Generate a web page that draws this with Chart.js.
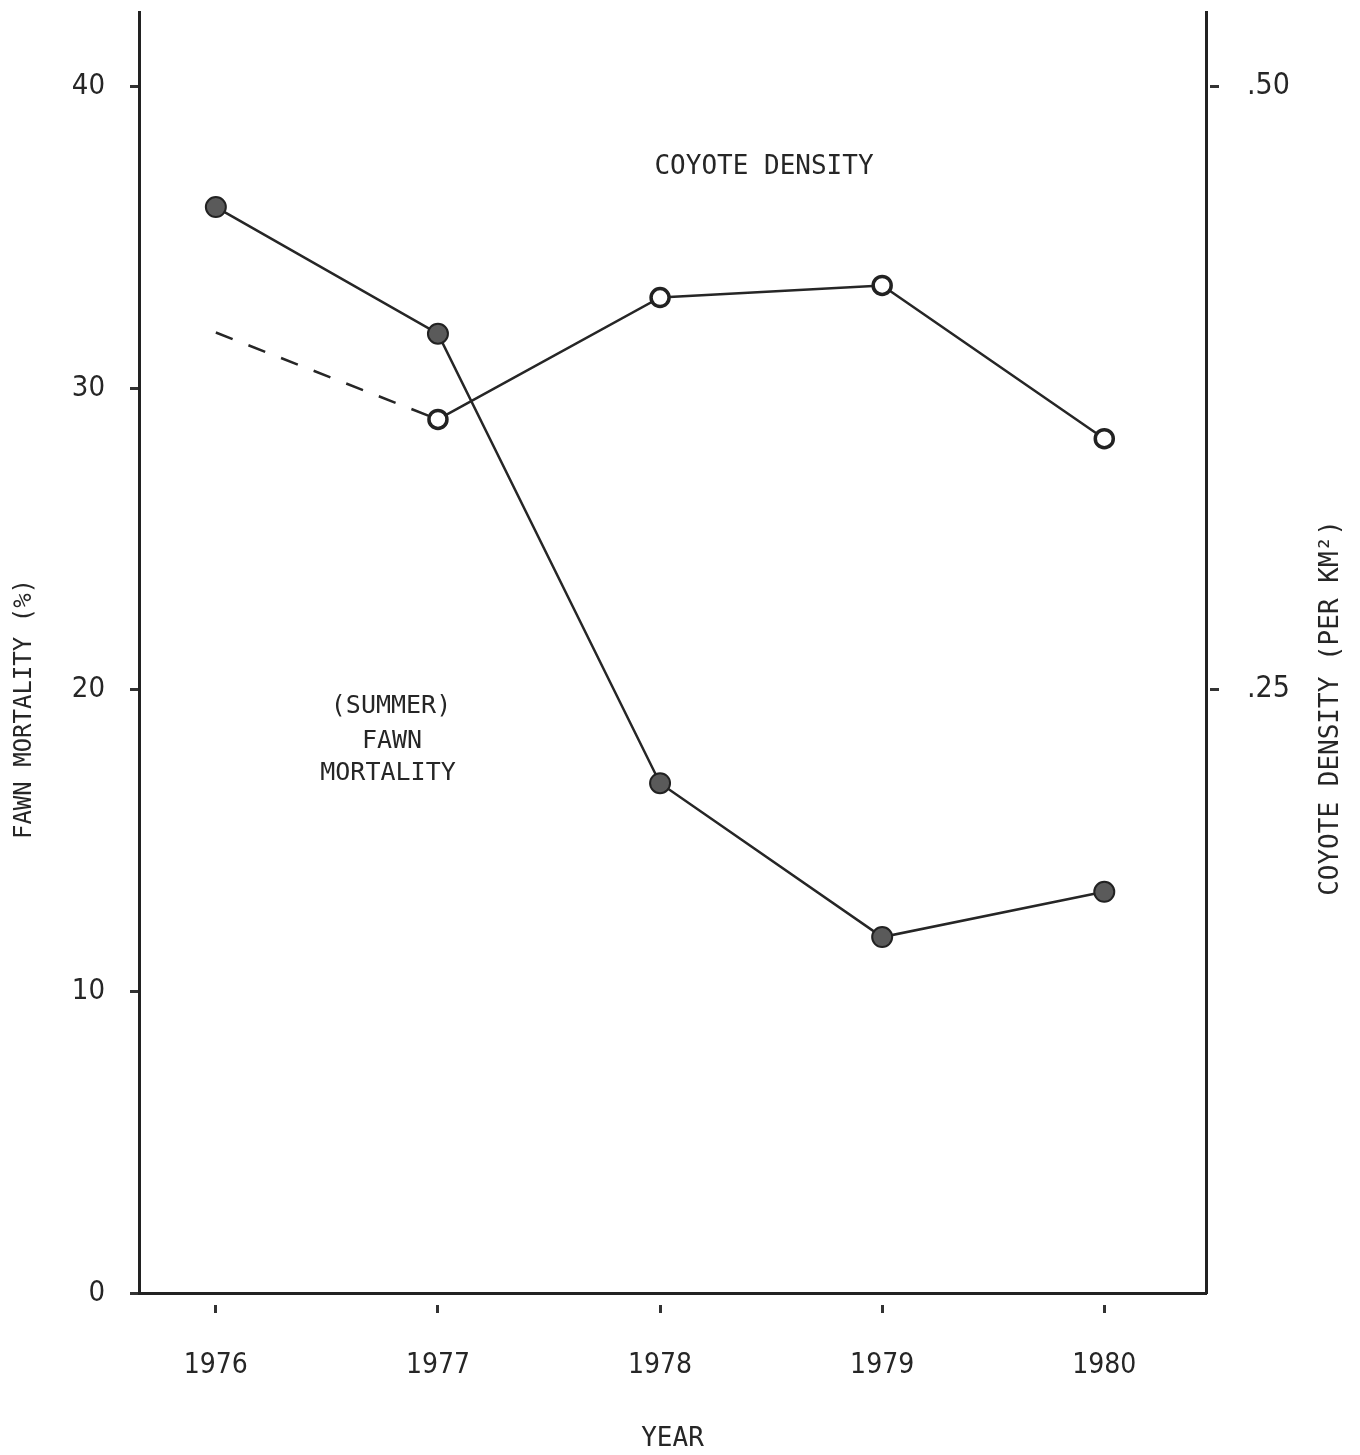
<!DOCTYPE html>
<html>
<head>
<meta charset="utf-8">
<script src="https://cdn.jsdelivr.net/npm/chart.js@4/dist/chart.umd.min.js"></script>
<style>
  html, body { margin: 0; padding: 0; background: #ffffff; }
  #wrap { width: 1360px; height: 1455px; }
</style>
</head>
<body>
<div id="wrap"><canvas id="c" width="1360" height="1455"></canvas></div>
<script>
// ---- data ----
const years = [1976, 1977, 1978, 1979, 1980];
const fawnMortality = [36.0, 31.8, 16.9, 11.8, 13.3];          // % (left axis)
const coyoteDensity = [0.398, 0.362, 0.4125, 0.4175, 0.354];    // per km2 (right axis); 1976 value only as dashed trend
const leftTickValues = [0, 10, 20, 30, 40];
const rightTickValues = [0.25, 0.50];
const rightTickLabels = ['.25', '.50'];

const INK = '#262626';
const MONO = '"DejaVu Sans Mono", "Liberation Mono", monospace';
const NARROW = '"Liberation Sans Narrow", "DejaVu Sans Condensed", "Liberation Sans", sans-serif';

const textPlugin = {
  id: 'textLabels',
  afterDraw(chart) {
    const ctx = chart.ctx;
    ctx.save();
    ctx.fillStyle = INK;
    ctx.textAlign = 'center';
    ctx.textBaseline = 'middle';
    ctx.font = '26px ' + MONO;
    ctx.fillText('COYOTE DENSITY', 764, 167);
    ctx.font = '25px ' + MONO;
    ctx.fillText('(SUMMER)', 391, 706);
    ctx.fillText('FAWN', 392, 741);
    ctx.fillText('MORTALITY', 388, 773);
    // left axis title
    ctx.save();
    ctx.translate(25, 709);
    ctx.rotate(-Math.PI / 2);
    ctx.font = '24px ' + MONO;
    ctx.fillText('FAWN MORTALITY (%)', 0, 0);
    ctx.restore();
    // right axis title
    ctx.save();
    ctx.translate(1331, 708);
    ctx.rotate(-Math.PI / 2);
    ctx.font = '26px ' + MONO;
    ctx.fillText('COYOTE DENSITY (PER KM\u00B2)', 0, 0);
    ctx.restore();
    ctx.restore();
  }
};

new Chart(document.getElementById('c'), {
  type: 'line',
  data: {
    datasets: [
      {
        label: 'Fawn mortality',
        data: years.map((y, i) => ({ x: y, y: fawnMortality[i] })),
        yAxisID: 'y',
        borderColor: INK,
        borderWidth: 2.5,
        pointRadius: 10,
        pointBackgroundColor: '#5a5a5a',
        pointBorderColor: '#222',
        pointBorderWidth: 2,
        tension: 0,
        fill: false
      },
      {
        label: 'Coyote density',
        data: years.map((y, i) => ({ x: y, y: coyoteDensity[i] })),
        yAxisID: 'y2',
        borderColor: INK,
        borderWidth: 2.5,
        pointRadius: [0, 9, 9, 9, 9],
        pointBackgroundColor: '#ffffff',
        pointBorderColor: '#222',
        pointBorderWidth: 3.5,
        tension: 0,
        fill: false,
        segment: {
          borderDash: ctx => ctx.p0DataIndex === 0 ? [18, 17] : undefined
        }
      }
    ]
  },
  options: {
    responsive: false,
    devicePixelRatio: 1,
    animation: false,
    layout: { padding: { top: 10, left: 0, right: 0, bottom: 0 } },
    plugins: {
      legend: { display: false },
      tooltip: { enabled: false }
    },
    scales: {
      x: {
        type: 'linear',
        position: 'bottom',
        min: 1975.654,
        max: 1980.458,
        afterBuildTicks: s => { s.ticks = years.map(v => ({ value: v })); },
        afterFit: s => { s.height = 162; s.paddingLeft = 0; s.paddingRight = 0; },
        ticks: {
          callback: v => String(v),
          font: { family: NARROW, size: 28 },
          color: INK,
          padding: 36,
          maxRotation: 0
        },
        grid: {
          display: true,
          drawOnChartArea: false,
          drawTicks: true,
          tickLength: 20,
          tickWidth: 3,
          tickColor: '#333',
          tickBorderDash: [0, 10, 10, 100]
        },
        border: { display: true, width: 3, color: '#222' },
        title: {
          display: true,
          text: 'YEAR',
          font: { family: MONO, size: 26 },
          color: INK,
          padding: { top: 0, bottom: 0 }
        }
      },
      y: {
        type: 'linear',
        position: 'left',
        min: 0,
        max: 42.45,
        afterBuildTicks: s => { s.ticks = leftTickValues.map(v => ({ value: v })); },
        afterFit: s => { s.width = 139; s.paddingTop = 0; s.paddingBottom = 0; },
        ticks: {
          callback: v => String(v),
          font: { family: NARROW, size: 29 },
          color: INK,
          padding: 20
        },
        grid: {
          display: true,
          drawOnChartArea: false,
          drawTicks: true,
          tickLength: 14,
          tickWidth: 3,
          tickColor: '#333',
          tickBorderDash: [0, 5, 9, 100]
        },
        border: { display: true, width: 3, color: '#222' }
      },
      y2: {
        type: 'linear',
        position: 'right',
        min: 0,
        max: 0.5306,
        afterBuildTicks: s => { s.ticks = rightTickValues.map(v => ({ value: v })); },
        afterFit: s => { s.width = 154; s.paddingTop = 0; s.paddingBottom = 0; },
        ticks: {
          callback: (v) => { const i = rightTickValues.indexOf(v); return i >= 0 ? rightTickLabels[i] : ''; },
          font: { family: NARROW, size: 30 },
          color: INK,
          padding: 28
        },
        grid: {
          display: true,
          drawOnChartArea: false,
          drawTicks: true,
          tickLength: 13,
          tickWidth: 3,
          tickColor: '#333',
          tickBorderDash: [0, 2, 11, 100]
        },
        border: { display: true, width: 3, color: '#222' }
      }
    }
  },
  plugins: [textPlugin]
});
</script>
</body>
</html>
